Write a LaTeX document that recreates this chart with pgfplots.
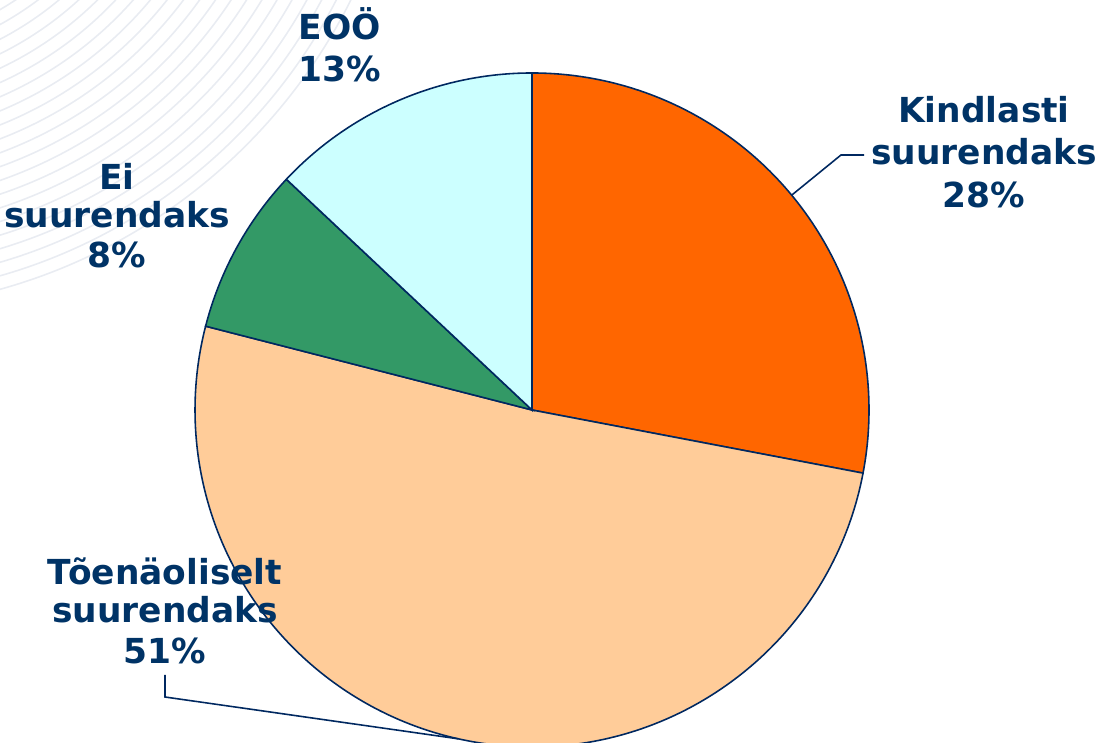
\documentclass[border=0pt]{standalone}
\usepackage{fontspec}
\setmainfont{DejaVu Sans}
\usepackage{pgfplots}
\usepackage{pgfplotstable}
\pgfplotsset{compat=1.18}
\definecolor{txt}{RGB}{0,51,102}
\definecolor{edge}{RGB}{0,40,96}
\definecolor{sA}{RGB}{255,102,0}
\definecolor{sB}{RGB}{255,204,153}
\definecolor{sC}{RGB}{51,153,102}
\definecolor{sD}{RGB}{204,255,255}
\definecolor{bgl}{RGB}{233,236,242}

\pgfplotstableread{
idx pct
0 28
1 51
2 8
3 13
}\piedata

\begin{document}%
\begin{tikzpicture}
\pgfplotstablegetelem{0}{pct}\of\piedata\let\pA\pgfplotsretval
\pgfplotstablegetelem{1}{pct}\of\piedata\let\pB\pgfplotsretval
\pgfplotstablegetelem{2}{pct}\of\piedata\let\pC\pgfplotsretval
\pgfplotstablegetelem{3}{pct}\of\piedata\let\pD\pgfplotsretval
\pgfmathsetmacro\aA{90}
\pgfmathsetmacro\aB{\aA-3.6*\pA}
\pgfmathsetmacro\aC{\aB-3.6*\pB}
\pgfmathsetmacro\aD{\aC-3.6*\pC}
\pgfmathsetmacro\aE{\aD-3.6*\pD}
\pgfmathsetmacro\mA{(\aA+\aB)/2}
\pgfmathsetmacro\mB{(\aB+\aC)/2}
\begin{axis}[
  width=11.01cm, height=7.43cm, scale only axis,
  xmin=0, xmax=1101, ymin=0, ymax=743,
  hide axis, clip=false,
]
\begin{scope}
\clip (axis cs:0,0) rectangle (axis cs:1101,743);
\pgfplotsinvokeforeach{300,313,...,560}{
  \draw[bgl, line width=0.45pt] (axis cs:-150,993) circle[radius=#1*0.01cm];
}
\fill[sA, draw=edge, line width=0.45pt] (axis cs:532,333) -- ++(\aA:3.37cm) arc[start angle=\aA, end angle=\aB, radius=3.37cm] -- cycle;
\fill[sB, draw=edge, line width=0.45pt] (axis cs:532,333) -- ++(\aB:3.37cm) arc[start angle=\aB, end angle=\aC, radius=3.37cm] -- cycle;
\fill[sC, draw=edge, line width=0.45pt] (axis cs:532,333) -- ++(\aC:3.37cm) arc[start angle=\aC, end angle=\aD, radius=3.37cm] -- cycle;
\fill[sD, draw=edge, line width=0.45pt] (axis cs:532,333) -- ++(\aD:3.37cm) arc[start angle=\aD, end angle=\aE, radius=3.37cm] -- cycle;
\draw[edge, line width=0.45pt] (axis cs:532,333) ++(\mA:3.37cm) -- (axis cs:841,588) -- (axis cs:864,588);
\draw[edge, line width=0.45pt] (axis cs:532,333) ++(\mB:3.37cm) -- (axis cs:165,46) -- (axis cs:165,68);
\end{scope}
\tikzset{lab/.style={anchor=base, text=txt, inner sep=0pt, font=\fontsize{9.8}{11.4}\selectfont\bfseries}}
\node[lab] at (axis cs:984,620) {Kindlasti};
\node[lab] at (axis cs:984,578) {suurendaks};
\node[lab] at (axis cs:984,535) {28\%};
\node[lab] at (axis cs:340,703) {EOÖ};
\node[lab] at (axis cs:340,661) {13\%};
\node[lab] at (axis cs:117,553) {Ei};
\node[lab] at (axis cs:117,515) {suurendaks};
\node[lab] at (axis cs:117,475) {8\%};
\node[lab] at (axis cs:165,158) {Tõenäoliselt};
\node[lab] at (axis cs:165,120) {suurendaks};
\node[lab] at (axis cs:165,79) {51\%};
\end{axis}
\pgfresetboundingbox
\path (0,0) rectangle (11.01cm,7.43cm);
\end{tikzpicture}%
\end{document}
